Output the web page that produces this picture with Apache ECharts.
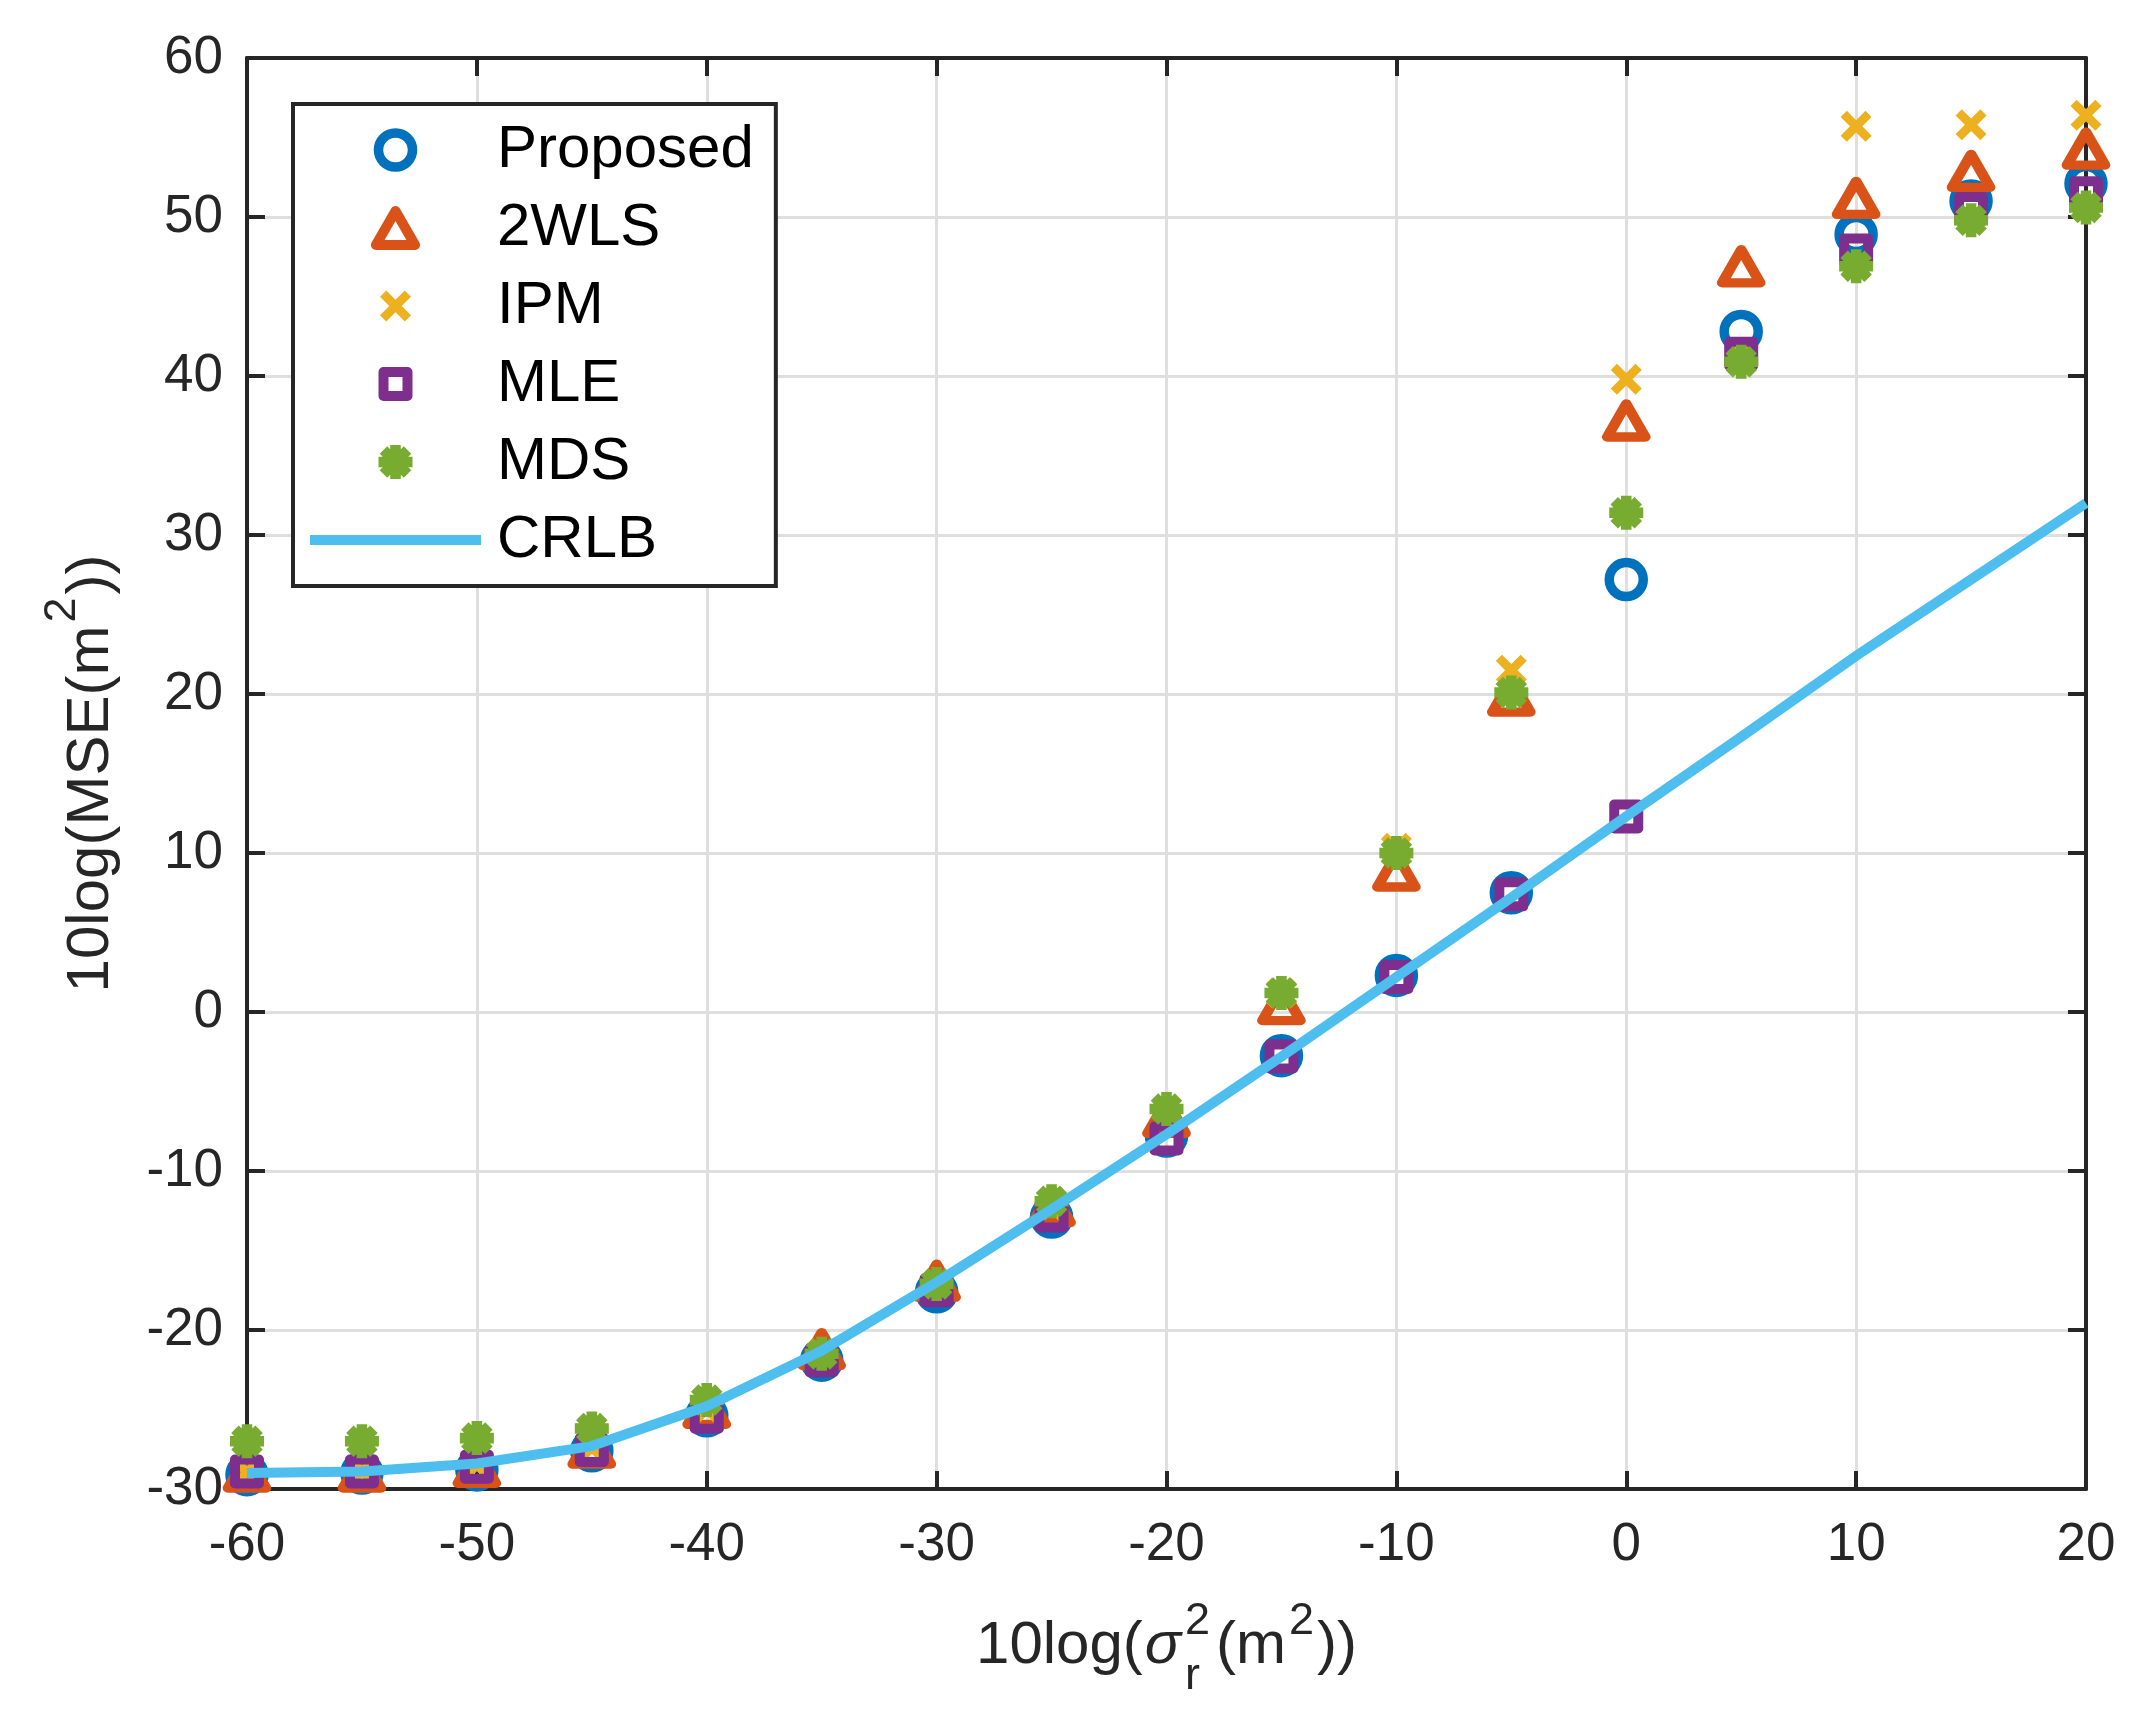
<!DOCTYPE html>
<html>
<head>
<meta charset="utf-8">
<script src="https://cdn.jsdelivr.net/npm/echarts@6/dist/echarts.min.js"></script>
<style>
html,body{margin:0;padding:0;background:#ffffff;}
#c{width:2155px;height:1717px;}
</style>
</head>
<body>
<div id="c"></div>
<script>
// ---------------- data ----------------
const xValues  = [-60, -55, -50, -45, -40, -35, -30, -25, -20, -15, -10, -5, 0, 5, 10, 15, 20];
const proposed = [-29.1, -29.0, -28.8, -27.6, -25.4, -21.9, -17.6, -12.9, -7.8, -2.75, 2.3, 7.5, 27.2, 42.8, 48.9, 51.0, 52.1];
const wls2     = [-28.9, -28.9, -28.6, -27.4, -24.9, -21.2, -16.9, -12.2, -6.6, 0.5, 8.9, 19.9, 37.2, 46.9, 51.2, 52.9, 54.3];
const ipm      = [-28.95, -28.9, -28.5, -27.4, -25.0, -21.5, -17.2, -12.3, -6.7, 1.2, 10.3, 21.5, 39.8, 41.2, 55.7, 55.8, 56.4];
const mle      = [-28.9, -28.9, -28.6, -27.55, -25.45, -21.9, -17.5, -12.8, -7.95, -2.8, 2.2, 7.4, 12.3, 41.4, 47.9, 50.5, 51.5];
const mds      = [-27.0, -27.0, -26.8, -26.2, -24.4, -21.5, -17.1, -11.9, -6.1, 1.2, 10.0, 20.1, 31.4, 40.9, 46.9, 49.8, 50.6];
const crlb     = [-29.0, -28.9, -28.4, -27.3, -24.8, -21.3, -17.0, -12.4, -7.7, -2.8, 2.2, 7.2, 12.3, 17.3, 22.4, 27.2, 32.0];
const seriesNames = ['Proposed', '2WLS', 'IPM', 'MLE', 'MDS', 'CRLB'];
const xMin = -60, xMax = 20, xStep = 10;
const yMin = -30, yMax = 60, yStep = 10;

// ---------------- styling ----------------
const FONT = 'Liberation Sans';
const AX = '#262626';
const GRIDC = '#dfdfdf';
const C = {p:'#0072BD', w:'#D95319', i:'#EDB120', m:'#7E2F8E', d:'#77AC30', c:'#4DBEEE'};
const G = {left:247, right:69, top:58, bottom:228};

const zip = a => xValues.map((x, k) => [x, a[k]]);

// filled marker outlines (unit box 0..10)
const X_SHAPE = 'M0,2L2,0L5,3L8,0L10,2L7,5L10,8L8,10L5,7L2,10L0,8L3,5Z';
const AST_SHAPE = 'M3.45,0L6.55,0L6.55,10L3.45,10Z M0,3.45L10,3.45L10,6.55L0,6.55Z ' +
                  'M0.36,2.56L2.56,0.36L9.64,7.44L7.44,9.64Z M7.44,0.36L9.64,2.56L2.56,9.64L0.36,7.44Z';
const SQ_SHAPE = 'M0,0L10,0L10,10L0,10Z';

// ---------------- text layout helpers for axis titles ----------------
const mctx = document.createElement('canvas').getContext('2d');
function fontStr(size, italic){ return (italic ? 'italic ' : '') + size + 'px "' + FONT + '"'; }
function tw(t, size, italic){ mctx.font = fontStr(size, italic); return mctx.measureText(t).width; }
function midOff(size, italic){
  mctx.font = fontStr(size, italic);
  mctx.textBaseline = 'alphabetic';
  const a = mctx.measureText('1').actualBoundingBoxAscent;
  mctx.textBaseline = 'middle';
  const b = mctx.measureText('1').actualBoundingBoxAscent;
  mctx.textBaseline = 'alphabetic';
  return a - b;
}
function layout(segs){
  let x = 0; const out = [];
  segs.forEach(s => {
    let w = 0;
    s.parts.forEach(p => {
      out.push({t:p.t, size:p.size, italic:!!p.italic, x:x, dy:p.dy || 0});
      w = Math.max(w, tw(p.t, p.size, p.italic));
    });
    x += w + (s.gap || 0);
  });
  return {items: out, width: x};
}
function toElems(lay, color){
  return lay.items.map(it => ({
    type:'text', x: it.x - lay.width/2, y: it.dy - midOff(it.size, it.italic), silent:true,
    style:{text: it.t, fontSize: it.size, fontFamily: FONT, fontStyle: it.italic ? 'italic' : 'normal',
           fill: color, align:'left', verticalAlign:'middle'}
  }));
}
const xTitle = layout([
  {parts:[{t:'10log(', size:60}], gap:2},
  {parts:[{t:'\u03C3', size:60, italic:true}], gap:4},
  {parts:[{t:'2', size:45, dy:-29}, {t:'r', size:45, dy:26}], gap:6},
  {parts:[{t:'(m', size:60}], gap:3},
  {parts:[{t:'2', size:45, dy:-29}], gap:3},
  {parts:[{t:'))', size:60}]}
]);
const yTitle = layout([
  {parts:[{t:'10log(MSE(m', size:60}], gap:3},
  {parts:[{t:'2', size:45, dy:-33}], gap:3},
  {parts:[{t:'))', size:60}]}
]);

// ---------------- chart ----------------
const chart = echarts.init(document.getElementById('c'));
const axisLabelCommon = {fontFamily: FONT, fontSize: 53, color: AX};
function sideAxis(pos, isX){
  return {type:'value', min: isX ? xMin : yMin, max: isX ? xMax : yMax, interval: isX ? xStep : yStep, position:pos,
    axisLine:{show:true, onZero:false, lineStyle:{color:AX, width:4}},
    axisTick:{show:true, inside:true, length:18, lineStyle:{color:AX, width:4}},
    axisLabel:{show:false}, splitLine:{show:false}};
}
chart.setOption({
  animation: false,
  backgroundColor: '#ffffff',
  grid: {left: G.left, right: G.right, top: G.top, bottom: G.bottom, containLabel: false},
  xAxis: [
    {type:'value', min:xMin, max:xMax, interval:xStep, position:'bottom',
     axisLine:{show:true, onZero:false, lineStyle:{color:AX, width:4}},
     axisTick:{show:true, inside:true, length:18, lineStyle:{color:AX, width:4}},
     axisLabel:Object.assign({margin:30}, axisLabelCommon),
     splitLine:{show:true, lineStyle:{color:GRIDC, width:3}}},
    sideAxis('top', true)
  ],
  yAxis: [
    {type:'value', min:yMin, max:yMax, interval:yStep, position:'left',
     axisLine:{show:true, onZero:false, lineStyle:{color:AX, width:4}},
     axisTick:{show:true, inside:true, length:18, lineStyle:{color:AX, width:4}},
     axisLabel:Object.assign({margin:24}, axisLabelCommon),
     splitLine:{show:true, lineStyle:{color:GRIDC, width:3}}},
    sideAxis('right', false)
  ],
  legend: {
    orient:'vertical', left:293, top:104, padding:[16,22,16,17],
    itemWidth:171, itemHeight:34, itemGap:18, selectedMode:false,
    backgroundColor:'#ffffff', borderColor:AX, borderWidth:4, borderRadius:0,
    textStyle:{fontFamily:FONT, fontSize:60, color:'#000000', lineHeight:60, padding:[0,0,0,11]},
    data:[
      {name:seriesNames[0], icon:'circle', itemStyle:{color:'transparent', borderColor:C.p, borderWidth:9.5, opacity:1}},
      {name:seriesNames[1], icon:'path://M19,0L38,33L0,33Z', itemStyle:{color:'transparent', borderColor:C.w, borderWidth:10, borderJoin:'round', opacity:1}},
      {name:seriesNames[2], icon:'path://M-0.5,-0.5M10.5,10.5' + X_SHAPE, itemStyle:{color:C.i, borderWidth:0, opacity:1}},
      {name:seriesNames[3], icon:'path://M0,0M34,34M5,5L29,5L29,29L5,29Z', itemStyle:{color:'transparent', borderColor:C.m, borderWidth:10, borderJoin:'round', opacity:1}},
      {name:seriesNames[4], icon:'path://' + AST_SHAPE, itemStyle:{color:C.d, borderWidth:0, opacity:1}},
      {name:seriesNames[5], icon:'path://M0,0L171,0L171,10L0,10Z', itemStyle:{color:C.c, borderWidth:0, opacity:1}}
    ]
  },
  series: [
    {name:seriesNames[0], type:'scatter', data:zip(proposed), symbol:'circle', symbolSize:34, silent:true,
     itemStyle:{color:'transparent', borderColor:C.p, borderWidth:9.5, opacity:1}},
    {name:seriesNames[1], type:'scatter', data:zip(wls2), symbol:'triangle', symbolSize:[38,33], silent:true,
     itemStyle:{color:'transparent', borderColor:C.w, borderWidth:10, borderJoin:'round', opacity:1}},
    {name:seriesNames[2], type:'scatter', data:zip(ipm), symbol:'path://' + X_SHAPE, symbolSize:31, silent:true,
     itemStyle:{color:C.i, borderWidth:0, opacity:1}},
    {name:seriesNames[3], type:'scatter', data:zip(mle), symbol:'path://' + SQ_SHAPE, symbolSize:24, silent:true,
     itemStyle:{color:'transparent', borderColor:C.m, borderWidth:10, borderJoin:'round', opacity:1}},
    {name:seriesNames[4], type:'scatter', data:zip(mds), symbol:'path://' + AST_SHAPE, symbolSize:34, silent:true,
     itemStyle:{color:C.d, borderWidth:0, opacity:1}},
    {name:seriesNames[5], type:'line', data:zip(crlb), symbol:'none', showSymbol:false, silent:true,
     lineStyle:{color:C.c, width:10}}
  ],
  graphic: {elements: [
    {type:'group', x:(G.left + (2155 - G.right)) / 2, y:1663, children: toElems(xTitle, AX)},
    {type:'group', x:108, y:(G.top + (1717 - G.bottom)) / 2, rotation:Math.PI/2, children: toElems(yTitle, AX)}
  ]}
});
</script>
</body>
</html>
